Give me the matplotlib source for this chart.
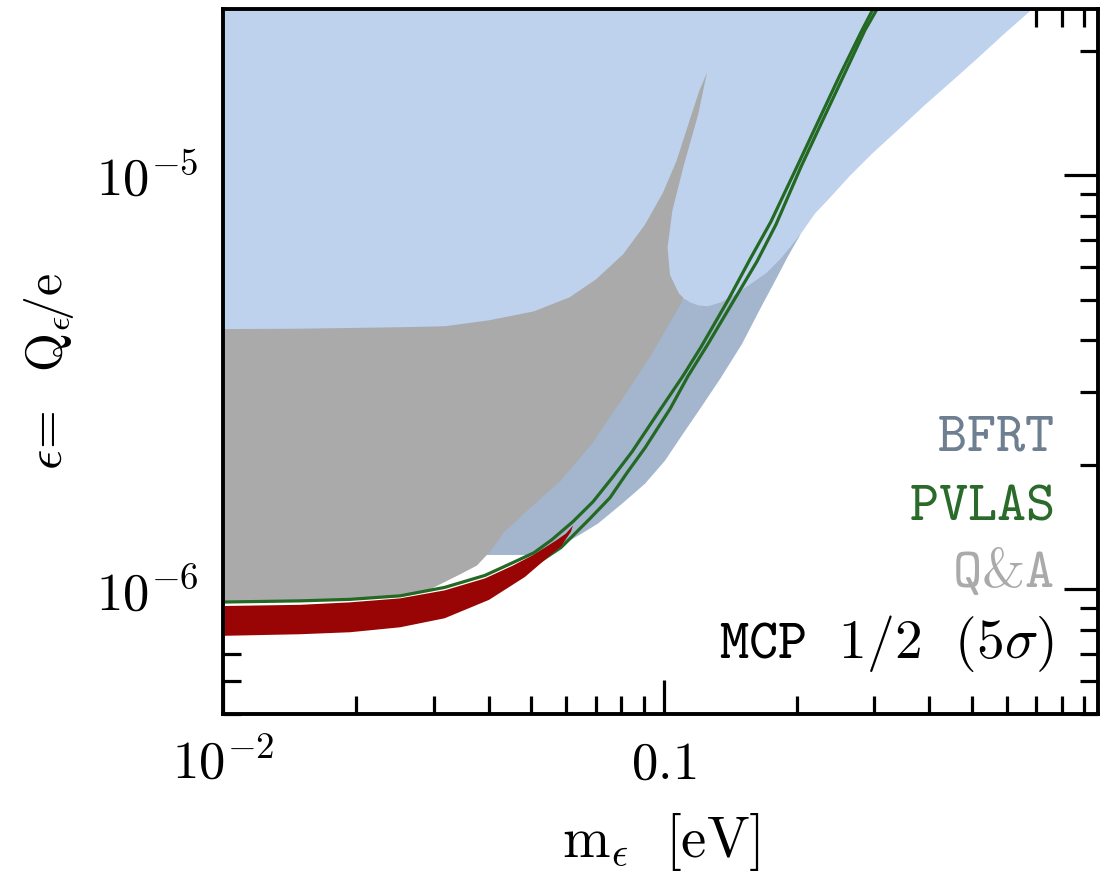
import matplotlib
matplotlib.use("Agg")
import matplotlib.pyplot as plt
from matplotlib.ticker import LogLocator, NullFormatter, FixedLocator, FixedFormatter

plt.rcParams['mathtext.fontset'] = 'cm'
plt.rcParams['font.family'] = ['DejaVu Serif']

# ---------------- data (m in eV, epsilon) ----------------
# light-blue excluded region (upper area incl. bubble right of the Q&A wedge)
sky_m = [0.009, 0.707, 0.6805, 0.5939, 0.5212, 0.4504, 0.3910, 0.3396, 0.2965, 0.2643,
         0.2381, 0.2201, 0.2046, 0.1932, 0.1833, 0.1704, 0.1567, 0.1464, 0.1347, 0.1258,
         0.1195, 0.1146, 0.1110, 0.07158, 0.009]
sky_eps = [2.6e-5, 2.6e-5, 2.506e-5, 2.206e-5, 1.942e-5, 1.690e-5, 1.480e-5, 1.288e-5,
           1.128e-5, 9.984e-6, 8.838e-6, 8.087e-6, 7.238e-6, 6.700e-6, 6.268e-6, 5.800e-6,
           5.454e-6, 5.190e-6, 4.937e-6, 4.829e-6, 4.856e-6, 4.937e-6, 5.048e-6, 4.252e-6,
           4.135e-6]

# BFRT region
bfrt_m = [0.2046, 0.1911, 0.1795, 0.1651, 0.1503, 0.1340, 0.1207, 0.1104, 0.1005, 0.09056,
          0.08030, 0.07083, 0.06448, 0.05993, 0.05232, 0.03925, 0.07158, 0.1104, 0.1207,
          0.1651]
bfrt_eps = [7.238e-6, 6.372e-6, 5.610e-6, 4.748e-6, 3.913e-6, 3.221e-6, 2.728e-6, 2.374e-6,
            2.045e-6, 1.800e-6, 1.610e-6, 1.442e-6, 1.356e-6, 1.297e-6, 1.211e-6, 1.211e-6,
            2.581e-6, 5.019e-6, 5.2e-6, 6.0e-6]

# Q&A region
qa_m = [0.009, 0.01493, 0.02518, 0.03178, 0.04009, 0.05070, 0.06104, 0.07011, 0.08072,
        0.09056, 0.09948, 0.1068, 0.1146, 0.1200, 0.1252,
        0.1239, 0.1195, 0.1110, 0.1045, 0.1019, 0.1032, 0.1081, 0.1110,
        0.09294, 0.08072, 0.06865, 0.05826, 0.04838, 0.04357, 0.04030, 0.03764, 0.03462,
        0.02944, 0.02625, 0.02268, 0.01493, 0.009]
qa_eps = [4.252e-6, 4.264e-6, 4.299e-6, 4.322e-6, 4.468e-6, 4.696e-6, 5.076e-6, 5.610e-6,
          6.444e-6, 7.607e-6, 9.085e-6, 1.085e-5, 1.369e-5, 1.590e-5, 1.772e-5,
          1.681e-5, 1.400e-5, 1.061e-5, 8.222e-6, 6.700e-6, 5.752e-6, 5.190e-6, 5.048e-6,
          3.639e-6, 2.900e-6, 2.247e-6, 1.830e-6, 1.532e-6, 1.379e-6, 1.234e-6, 1.142e-6,
          1.090e-6, 1.0e-6, 9.674e-7, 9.566e-7, 9.356e-7, 9.305e-7]

# MCP 1/2 (5 sigma) band
mcp_m = [0.009, 0.01493, 0.01939, 0.02518, 0.03178, 0.03925, 0.04544, 0.05070, 0.05687,
         0.05993, 0.06216,
         0.06152, 0.05838, 0.05559, 0.04838, 0.04009, 0.03178, 0.02518, 0.01939, 0.01493,
         0.009]
mcp_eps = [9.101e-7, 9.177e-7, 9.305e-7, 9.513e-7, 9.945e-7, 1.063e-6, 1.142e-6, 1.214e-6,
           1.312e-6, 1.364e-6, 1.426e-6,
           1.379e-6, 1.269e-6, 1.217e-6, 1.072e-6, 9.434e-7, 8.515e-7, 8.099e-7, 7.879e-7,
           7.792e-7, 7.706e-7]

# PVLAS contour (two edges)
pv_up_m = [0.009, 0.01493, 0.01939, 0.02518, 0.03178, 0.03925, 0.04544, 0.05070, 0.05570,
           0.06216, 0.06901, 0.07661, 0.08461, 0.09793, 0.1104, 0.1213, 0.1397, 0.1567,
           0.1749, 0.2003, 0.2236, 0.2508, 0.2814, 0.2980, 0.3237]
pv_up_eps = [9.305e-7, 9.382e-7, 9.461e-7, 9.647e-7, 1.011e-6, 1.081e-6, 1.161e-6, 1.226e-6,
             1.319e-6, 1.458e-6, 1.628e-6, 1.871e-6, 2.149e-6, 2.713e-6, 3.276e-6, 3.847e-6,
             4.992e-6, 6.268e-6, 7.736e-6, 1.049e-5, 1.347e-5, 1.748e-5, 2.243e-5, 2.52e-5,
             3.0e-5]
pv_lo_m = [0.05232, 0.05838, 0.06119, 0.06794, 0.07542, 0.08242, 0.09056, 0.1032, 0.1134,
           0.1258, 0.1441, 0.1626, 0.1795, 0.2046, 0.2283, 0.2561, 0.2858, 0.3043, 0.330]
pv_lo_eps = [1.168e-6, 1.262e-6, 1.326e-6, 1.483e-6, 1.665e-6, 1.912e-6, 2.197e-6, 2.728e-6,
             3.276e-6, 3.913e-6, 4.992e-6, 6.199e-6, 7.607e-6, 1.049e-5, 1.347e-5, 1.748e-5,
             2.243e-5, 2.52e-5, 3.0e-5]

x_major = [0.01, 0.1]
x_major_labels = [r'$10^{-2}$', r'$0.1$']
y_major = [1e-6, 1e-5]
y_major_labels = [r'$10^{-6}$', r'$10^{-5}$']

labels = [r'$\mathtt{BFRT}$', r'$\mathtt{PVLAS}$', r'$\mathtt{Q&A}$',
          r'$\mathtt{MCP\enspace\,1/2\enspace\,(5}\sigma\mathtt{)}$']
label_colors = ['#6F7F92', '#2A6A2A', '#AAAAAA', '#000000']

# ---------------- figure ----------------
fig = plt.figure(figsize=(11.04, 8.75), dpi=100)
ax = fig.add_axes([223.3 / 1104, 1 - 714 / 875, (1098 - 223.3) / 1104, (714 - 9.3) / 875])
ax.set_xscale('log')
ax.set_yscale('log')

ax.fill(bfrt_m, bfrt_eps, color='#A3B6CE', lw=0, zorder=1)
ax.fill(sky_m, sky_eps, color='#BED2EE', lw=0, zorder=2)
ax.fill(qa_m, qa_eps, color='#AAAAAA', lw=0, zorder=3)
ax.plot(pv_lo_m, pv_lo_eps, color='#236823', lw=2.3, zorder=4, solid_joinstyle='round')
ax.fill(mcp_m, mcp_eps, color='#990505', lw=0, zorder=5)
ax.plot(pv_up_m, pv_up_eps, color='#236823', lw=2.3, zorder=6, solid_joinstyle='round')

ax.set_xlim(0.01, 0.966)
ax.set_ylim(5.0e-7, 2.52e-5)

ax.xaxis.set_major_locator(FixedLocator(x_major))
ax.xaxis.set_major_formatter(FixedFormatter(x_major_labels))
ax.yaxis.set_major_locator(FixedLocator(y_major))
ax.yaxis.set_major_formatter(FixedFormatter(y_major_labels))
ax.xaxis.set_minor_locator(LogLocator(base=10, subs=range(2, 10), numticks=20))
ax.yaxis.set_minor_locator(LogLocator(base=10, subs=range(2, 10), numticks=20))
ax.xaxis.set_minor_formatter(NullFormatter())
ax.yaxis.set_minor_formatter(NullFormatter())

ax.tick_params(which='both', direction='in', top=True, right=True, width=2.3, labelsize=38,
               pad=18)
ax.tick_params(which='major', length=24.5)
ax.tick_params(which='minor', length=13)
for s in ax.spines.values():
    s.set_linewidth(2.8)
    s.set_zorder(10)

ax.set_xlabel(r'$\mathrm{m}_{\epsilon}\ \ [\mathrm{eV}]$', fontsize=41)
ax.set_ylabel(r'$\epsilon\!=\ \ \mathrm{Q}_{\epsilon}\!/\mathrm{e}$', fontsize=36)
ax.xaxis.set_label_coords(0.5, -0.137)
ax.yaxis.set_label_coords(-0.168, 0.487)

y_pos = [0.3746, 0.2753, 0.1802, 0.0795]
for txt, col, yp in zip(labels, label_colors, y_pos):
    ax.text(0.9497, yp, txt, color=col, fontsize=40, ha='right', va='baseline',
            transform=ax.transAxes, zorder=11)

fig.savefig('out.png', dpi=100)
